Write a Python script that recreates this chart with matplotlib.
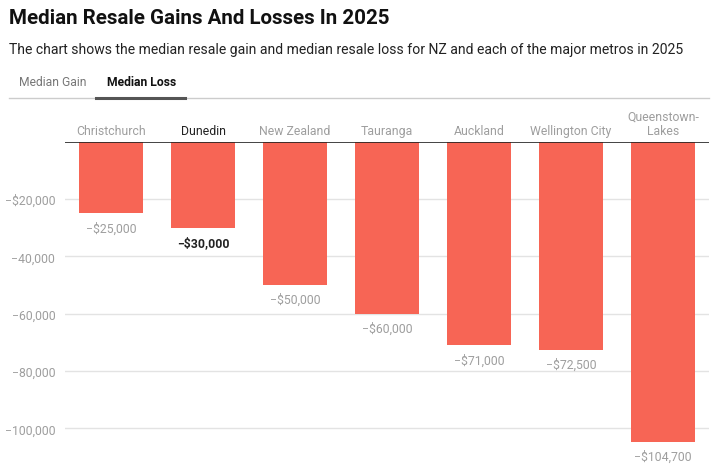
import matplotlib.pyplot as plt
from matplotlib.ticker import FuncFormatter

plt.rcParams['font.family'] = ['Roboto', 'DejaVu Sans']

# data
cities = ['Christchurch', 'Dunedin', 'New Zealand', 'Tauranga',
          'Auckland', 'Wellington City', 'Queenstown-\nLakes']
losses = [-25000, -30000, -50000, -60000, -71000, -72500, -104700]
highlight = 'Dunedin'
yticks = [-20000, -40000, -60000, -80000, -100000]

W, H = 727, 477
fig = plt.figure(figsize=(W / 100, H / 100), dpi=100)

# axes placed in pixel coords: x 65..709, y 142..472
ax = fig.add_axes([65 / W, 1 - 472.5 / H, 644 / W, 330 / H])
bar_color = '#F76555'
grey = '#9e9e9e'

x = range(len(cities))
ax.bar(x, losses, width=0.696, color=bar_color, zorder=2)
ax.set_xlim(-0.5, len(cities) - 0.5)
ax.set_ylim(-115000, 0)

ax.set_yticks(yticks)
ax.yaxis.set_major_formatter(FuncFormatter(
    lambda v, p: ('\u2212$' if v == -20000 else '\u2212') + f'{abs(v):,.0f}'))
ax.tick_params(axis='y', length=0, pad=7, labelsize=8.8, labelcolor=grey)
ax.grid(axis='y', color='#e3e3e3', lw=1, zorder=0)
ax.set_xticks([])
for s in ['top', 'right', 'left', 'bottom']:
    ax.spines[s].set_visible(False)
ax.axhline(0, color='#222222', lw=1.2, zorder=3)

for i, (c, v) in enumerate(zip(cities, losses)):
    hl = c == highlight
    ax.text(i, 1700, c, ha='center', va='bottom', fontsize=8.8,
            color='#222222' if hl else grey, linespacing=1.15)
    ax.text(i, v - 2800, '\u2212$' + f'{abs(v):,.0f}', ha='center', va='top',
            fontsize=8.8, color='#222222' if hl else grey,
            fontweight='bold' if hl else 'normal')

# title, subtitle, tabs
fig.text(9 / W, 1 - 18 / H, 'Median Resale Gains And Losses In 2025',
         fontsize=14.8, fontweight='bold', color='#111111', va='center')
fig.text(9 / W, 1 - 50 / H, 'The chart shows the median resale gain and median resale loss '
         'for NZ and each of the major metros in 2025',
         fontsize=10.1, color='#222222', va='center')
fig.text(19 / W, 1 - 83 / H, 'Median Gain', fontsize=8.7, color='#777777', va='center')
fig.text(107 / W, 1 - 83 / H, 'Median Loss', fontsize=8.7, color='#111111',
         fontweight='bold', va='center')
fig.add_artist(plt.Line2D([9 / W, 709 / W], [1 - 99 / H, 1 - 99 / H],
                          color='#cccccc', lw=1))
fig.add_artist(plt.Line2D([96 / W, 185 / W], [1 - 98.5 / H, 1 - 98.5 / H],
                          color='#555555', lw=2.2))

fig.savefig('out.png', dpi=100)
